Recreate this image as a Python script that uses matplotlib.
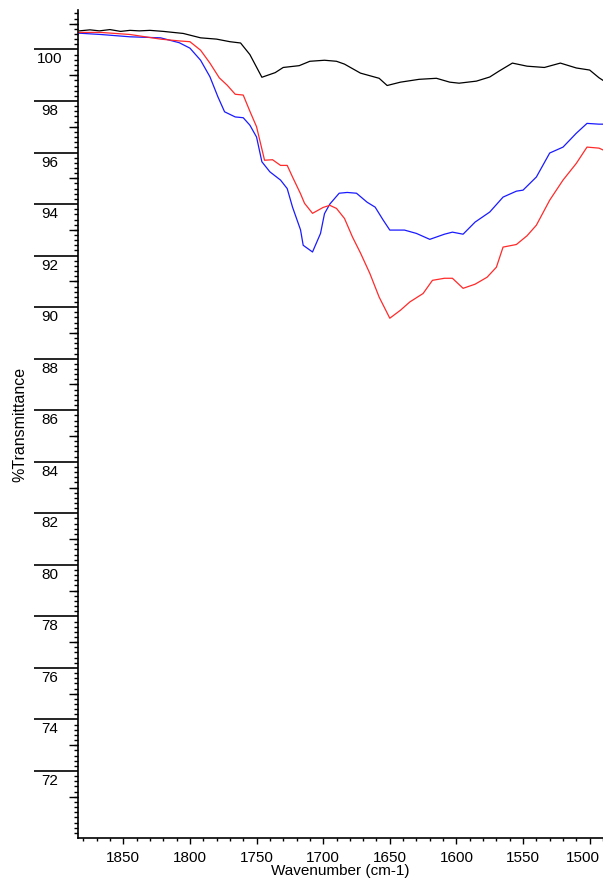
import numpy as np
import matplotlib.pyplot as plt
import matplotlib.transforms as mtransforms

plt.rcParams['font.family'] = ['Liberation Sans', 'DejaVu Sans']

# wavenumber (cm-1) / %T readings for the three spectra
black_wn = [1883, 1875, 1868, 1860, 1852, 1845, 1838, 1830, 1820, 1805, 1792, 1780, 1770,
            1762, 1755, 1746, 1736, 1730, 1718, 1710, 1699, 1690, 1684, 1672, 1658,
            1652, 1642, 1628, 1615, 1605, 1598, 1585, 1575, 1568, 1558, 1547, 1534,
            1522, 1510, 1500, 1493, 1490]
black_t = [100.72, 100.76, 100.72, 100.77, 100.70, 100.74, 100.72, 100.74, 100.70, 100.62,
           100.45, 100.40, 100.30, 100.25, 99.80, 98.92, 99.10, 99.30, 99.37, 99.54,
           99.58, 99.54, 99.43, 99.08, 98.88, 98.60, 98.73, 98.84, 98.88, 98.73,
           98.69, 98.77, 98.93, 99.16, 99.47, 99.35, 99.30, 99.47, 99.28, 99.20,
           98.90, 98.80]

blue_wn = [1883, 1867, 1845, 1822, 1808, 1800, 1792, 1785, 1779, 1774, 1766, 1760,
           1755, 1750, 1746, 1740, 1732, 1727, 1723, 1717, 1715, 1708, 1702, 1699,
           1695, 1688, 1682, 1675, 1667, 1661, 1655, 1650, 1639, 1630, 1620, 1609,
           1603, 1595, 1586, 1575, 1565, 1555, 1550, 1540, 1530, 1520, 1510, 1502,
           1493, 1490]
blue_t = [100.63, 100.58, 100.49, 100.45, 100.26, 100.05, 99.58, 98.94, 98.16, 97.58,
          97.38, 97.35, 97.06, 96.60, 95.64, 95.25, 94.93, 94.60, 93.88, 93.00,
          92.40, 92.14, 92.86, 93.63, 94.00, 94.42, 94.45, 94.42, 94.07, 93.88,
          93.38, 92.99, 92.99, 92.86, 92.63, 92.83, 92.91, 92.83, 93.30, 93.69,
          94.27, 94.50, 94.54, 95.05, 95.98, 96.21, 96.75, 97.13, 97.10, 97.10]

red_wn = [1883, 1867, 1845, 1822, 1808, 1800, 1792, 1785, 1778, 1772, 1766, 1760,
          1755, 1750, 1744, 1738, 1732, 1727, 1723, 1717, 1714, 1708, 1700, 1695,
          1690, 1684, 1678, 1672, 1665, 1658, 1650, 1642, 1635, 1625, 1618, 1609,
          1603, 1595, 1586, 1577, 1570, 1565, 1555, 1547, 1540, 1530, 1520, 1510,
          1502, 1493, 1490]
red_t = [100.66, 100.66, 100.58, 100.40, 100.33, 100.30, 99.97, 99.47, 98.90, 98.61,
         98.26, 98.23, 97.60, 97.00, 95.70, 95.72, 95.50, 95.50, 95.05, 94.40,
         94.03, 93.64, 93.87, 93.95, 93.83, 93.44, 92.72, 92.10, 91.31, 90.39,
         89.57, 89.88, 90.20, 90.53, 91.04, 91.12, 91.12, 90.73, 90.89, 91.16,
         91.55, 92.33, 92.43, 92.77, 93.18, 94.15, 94.93, 95.58, 96.21, 96.17, 96.10]

y_major = np.arange(72, 101, 2)
y_mid = np.arange(71, 102, 2)
x_major = np.arange(1500, 1851, 50)

fig = plt.figure(figsize=(6.03, 8.84), dpi=100)
ax = fig.add_axes([78 / 603, 46 / 884, 525 / 603, 828 / 884])

ax.plot(black_wn, black_t, color='black', lw=0.9)
ax.plot(blue_wn, blue_t, color='#1a1aff', lw=0.9)
ax.plot(red_wn, red_t, color='#ff2a2a', lw=0.9)

ax.set_xlim(1884, 1490)
ax.set_ylim(69.4, 101.53)

for s in ['top', 'right']:
    ax.spines[s].set_visible(False)
ax.spines['left'].set_linewidth(1.2)
ax.spines['bottom'].set_linewidth(1.2)

# x axis ticks, labels drawn by hand (last one nudged inside the figure)
ax.set_xticks(x_major)
ax.set_xticklabels([])
ax.set_xticks(np.arange(1490, 1881, 10), minor=True)
ax.tick_params(axis='x', which='major', length=4, width=1)
ax.tick_params(axis='x', which='minor', length=2.5, width=1)

xtrans = mtransforms.blended_transform_factory(ax.transData, ax.transAxes)
for v in x_major:
    dx = -7 / 100 if v == 1500 else 0
    t = xtrans + mtransforms.ScaledTranslation(dx, -13 / 100, fig.dpi_scale_trans)
    ax.text(v, 0, str(v), transform=t, ha='center', va='top', fontsize=11)

# y axis: long major ticks, labels drawn below the tick line
ax.set_yticks(y_major)
ax.set_yticklabels([])
ax.set_yticks(np.arange(69.6, 101.5, 0.2), minor=True)
ax.tick_params(axis='y', which='major', length=32, width=1.2)
ax.tick_params(axis='y', which='minor', length=3, width=1)

sec = ax.secondary_yaxis('left')
sec.set_yticks(y_mid)
sec.set_yticklabels([])
sec.tick_params(axis='y', length=6.5, width=1)
sec.spines['left'].set_visible(False)

trans = mtransforms.blended_transform_factory(ax.transAxes, ax.transData)
trans = trans + mtransforms.ScaledTranslation(-28 / 100, -3 / 100, fig.dpi_scale_trans)
for v in y_major:
    ax.text(0, v, str(v), transform=trans, ha='center', va='top', fontsize=11)

ax.set_xlabel('Wavenumber (cm-1)', fontsize=11, labelpad=11)
ax.set_ylabel('%Transmittance', fontsize=11.5)
ax.yaxis.set_label_coords(-51 / 525, 0.5)

fig.savefig('out.png', dpi=100)
